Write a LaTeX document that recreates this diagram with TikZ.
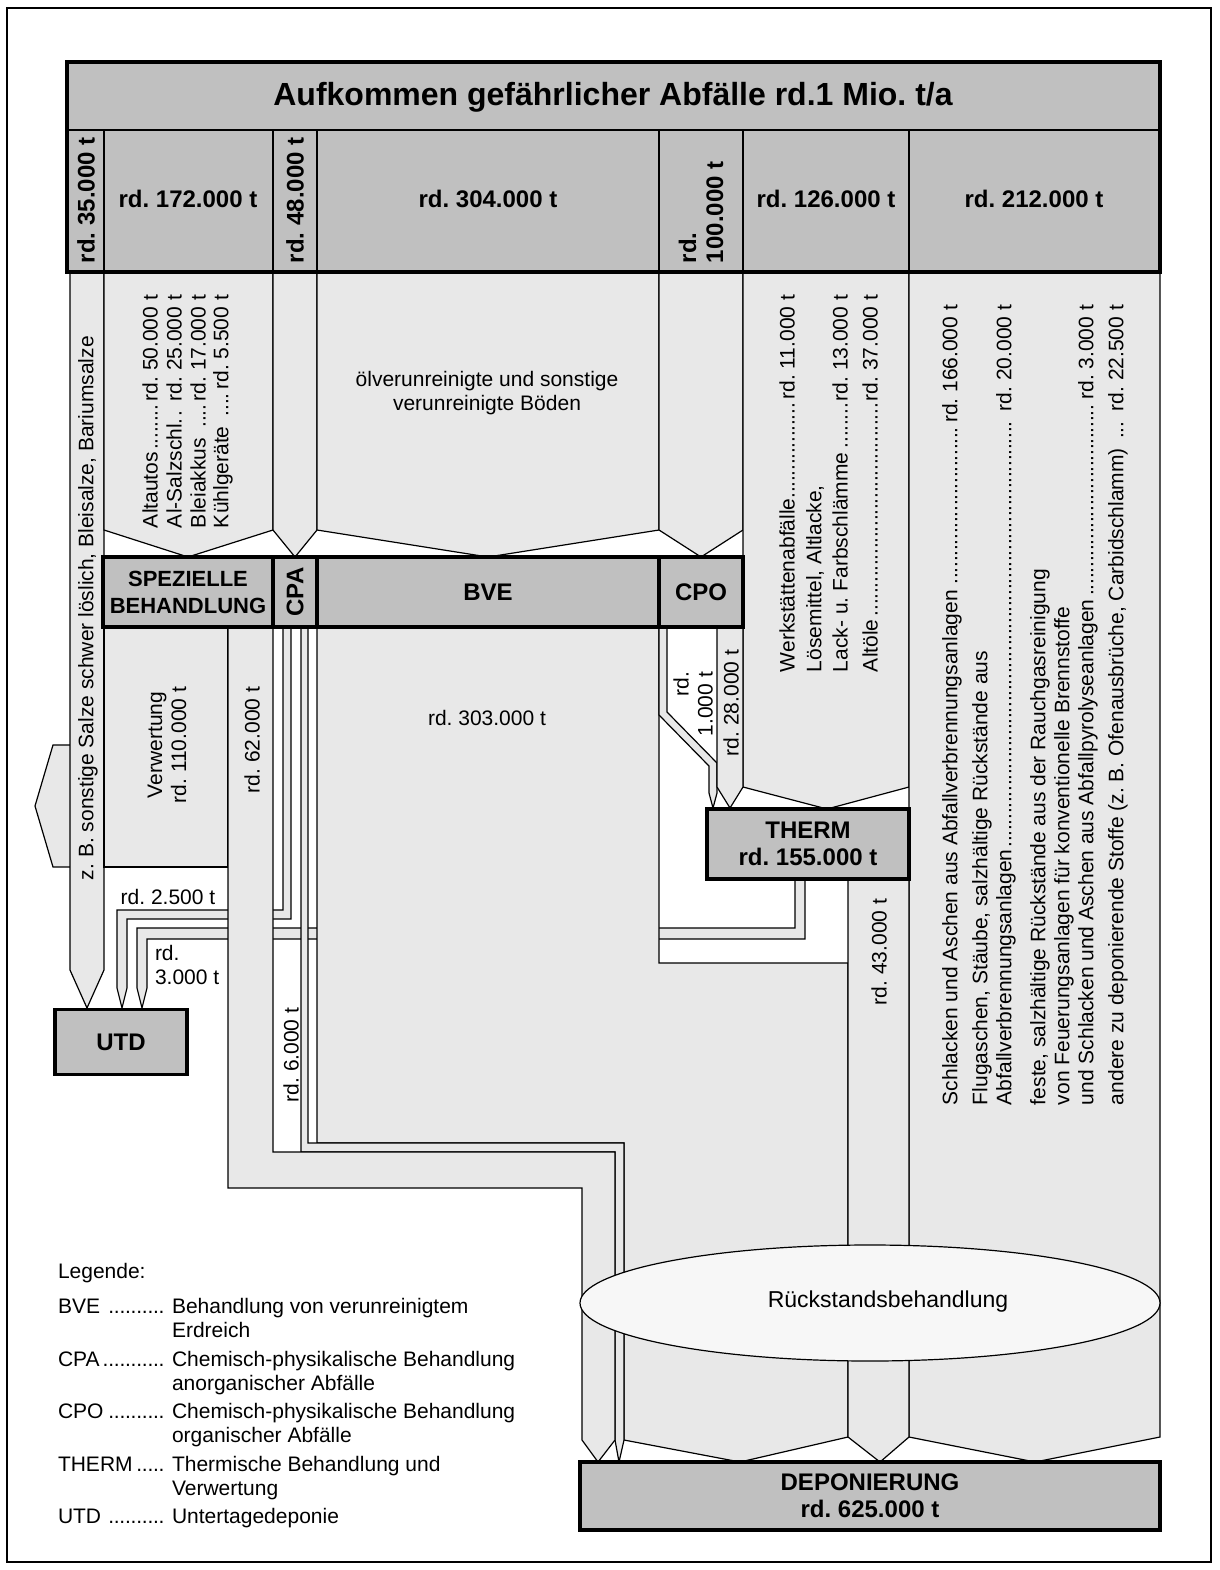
\documentclass[tikz,border=0pt]{standalone}
\usepackage{fontspec}
\setmainfont{Liberation Sans}
\usetikzlibrary{shapes.geometric}
\definecolor{boxgrey}{HTML}{C0C0C0}
\definecolor{flowgrey}{HTML}{E8E8E8}
\definecolor{ovalgrey}{HTML}{F7F7F7}
\frenchspacing
\newcommand{\txtsize}{\fontsize{21}{24}\selectfont}
\newcommand{\boldsize}{\fontsize{24}{27}\selectfont\bfseries}
\newcommand{\lfill}{\leaders\hbox to 5.6pt{\hss.\hss}\hfill}
\tikzstyle{flow}=[draw, fill=flowgrey, line width=1.2pt, line join=miter]
\tikzstyle{station}=[draw, fill=boxgrey, line width=3.5pt, inner sep=0, outer sep=0, align=center, font=\boldsize]
\tikzstyle{vtext}=[rotate=90, inner sep=0, outer sep=0, font=\txtsize]
\tikzstyle{htext}=[inner sep=0, outer sep=0, font=\txtsize]
\tikzstyle{hbold}=[inner sep=0, outer sep=0, font=\boldsize]

\begin{document}
\begin{tikzpicture}[x=1pt, y=-1pt]
    \useasboundingbox (0,0) rectangle (1219,1570);
    \draw[line width=1.5pt] (7,8) rectangle (1211,1562);

    % treatment boxes (placed first, so flows can use their anchors)
    \path (188,592) coordinate (spezc) (295,592) coordinate (cpac) (488,592) coordinate (bvec) (701,592) coordinate (cpoc);

    % inflows from the header
    \path[flow] (70,745) -- (53,745) -- (35,806) -- (53,867) -- (70,867);
    \path[flow] (70,272) -- (70,970) -- (87,1008) -- (104,970) -- (104,272) -- cycle;
    \path[flow] (104,272) -- (104,530) -- (188,557) -- (273,530) -- (273,272) -- cycle;
    \path[flow] (273,272) -- (273,530) -- (295,557) -- (317,530) -- (317,272) -- cycle;
    \path[flow] (317,272) -- (317,530) -- (488,557) -- (659,530) -- (659,272) -- cycle;
    \path[flow] (659,272) -- (659,530) -- (701,557) -- (743,530) -- (743,272) -- cycle;
    \path[flow] (743,272) -- (743,787) -- (827,809) -- (909,787) -- (909,272) -- cycle;
    \path[flow] (909,272) -- (909,1437) -- (1035,1462) -- (1160,1437) -- (1160,272) -- cycle;

    % THERM -> UTD
    \path[flow] (795,879) -- (795,928) -- (137,928) -- (137,988) -- (142,1008) -- (147,988) -- (147,939) -- (805,939) -- (805,879) -- cycle;
    % BVE -> DEPONIERUNG
    \path[flow] (317,627) -- (317,1143) -- (624,1143) -- (624,1440) -- (740,1462) -- (848,1437) -- (848,963) -- (659,963) -- (659,627) -- cycle;
    % CPA -> DEPONIERUNG
    \path[flow] (301,627) -- (301,1152) -- (615,1152) -- (615,1440) -- (619,1462) -- (624,1440) -- (624,1143) -- (308,1143) -- (308,627) -- cycle;
    % CPA -> UTD
    \path[flow] (283,627) -- (283,910) -- (117,910) -- (117,988) -- (122,1008) -- (127,988) -- (127,919) -- (291,919) -- (291,627) -- cycle;
    % Verwertung
    \path[flow] (104,627) -- (104,867) -- (228,867) -- (228,627) -- cycle;
    % SPEZIELLE BEHANDLUNG -> DEPONIERUNG
    \path[flow] (228,627) -- (228,1188) -- (582,1188) -- (582,1440) -- (598,1462) -- (615,1440) -- (615,1152) -- (273,1152) -- (273,627) -- cycle;
    % CPO -> THERM
    \path[flow] (659,627) -- (659,715) -- (709,766) -- (709,793) -- (713,808) -- (717,793) -- (717,763) -- (667,712) -- (667,627) -- cycle;
    \path[flow] (717,627) -- (717,787) -- (730,808) -- (743,787) -- (743,627) -- cycle;
    % THERM -> DEPONIERUNG
    \path[flow] (848,879) -- (848,1437) -- (880,1462) -- (909,1437) -- (909,879) -- cycle;

    \node[ellipse, draw, fill=ovalgrey, line width=1.2pt, minimum width=580pt, minimum height=116pt, inner sep=0] (oval) at (870,1303) {};
    \node[font=\fontsize{23}{26}\selectfont, inner sep=0] (ovaltext) at (888,1302) {Rückstandsbehandlung};

    % boxes
    \node[station, minimum width=170pt, minimum height=70pt, font=\fontsize{22}{27}\selectfont\bfseries] (spez) at (spezc) {SPEZIELLE\\BEHANDLUNG};
    \node[station, minimum width=44pt, minimum height=70pt] (cpa) at (cpac) {\rotatebox{90}{CPA}};
    \node[station, minimum width=342pt, minimum height=70pt] (bve) at (bvec) {BVE};
    \node[station, minimum width=84pt, minimum height=70pt] (cpo) at (cpoc) {CPO};
    \node[station, minimum width=202pt, minimum height=70pt] (therm) at (808,844) {THERM\\rd. 155.000 t};
    \node[station, minimum width=132pt, minimum height=65pt] (utd) at (121,1042) {UTD};
    \node[station, minimum width=580pt, minimum height=68pt] (depo) at (870,1496) {DEPONIERUNG\\rd. 625.000 t};

    % header
    \node[station, minimum width=1093pt, minimum height=210pt] (head) at (613.5,167) {};
    \draw[line width=1.5pt] (67,130) -- (1160,130);
    \foreach \x in {104,273,317,659,743,909}
        \draw[line width=1.5pt] (\x,130) -- (\x,272);
    \draw[line width=3.5pt] (head.north west) rectangle (head.south east);
    \node[font=\fontsize{32}{36}\selectfont\bfseries, inner sep=0] (title) at (613,97) {Aufkommen gefährlicher Abfälle rd.1 Mio. t/a};
    \node[hbold, rotate=90, anchor=west] (h1) at (86,263) {rd. 35.000 t};
    \node[hbold] (h2) at (188,199) {rd. 172.000 t};
    \node[hbold, rotate=90, anchor=west] (h3) at (295,263) {rd. 48.000 t};
    \node[hbold] (h4) at (488,199) {rd. 304.000 t};
    \node[hbold, rotate=90, anchor=west, align=left] (h5) at (701,263) {rd.\\100.000 t};
    \node[hbold] (h6) at (826,199) {rd. 126.000 t};
    \node[hbold] (h7) at (1034,199) {rd. 212.000 t};

    % texts in the flows
    \node[vtext, anchor=west] (salze) at (88,880) {z. B. sonstige Salze schwer löslich, Bleisalze, Bariumsalze};
    \node[vtext, anchor=west] (s1) at (150,528) {\makebox[233pt][l]{Altautos\lfill rd. 50.000 t}};
    \node[vtext, anchor=west] (s2) at (174,528) {\makebox[233pt][l]{Al-Salzschl.\lfill\ rd. 25.000 t}};
    \node[vtext, anchor=west] (s3) at (198,528) {\makebox[233pt][l]{Bleiakkus \lfill rd. 17.000 t}};
    \node[vtext, anchor=west] (s4) at (223,528) {\makebox[233pt][l]{Kühlgeräte \lfill rd. 5.500 t}};
    \node[htext, align=center] (boden) at (487,393) {ölverunreinigte und sonstige\\verunreinigte Böden};
    \node[vtext, anchor=west] (w1) at (787,672) {\makebox[377pt][l]{Werkstättenabfälle\lfill rd. 11.000 t}};
    \node[vtext, anchor=west] (w2) at (815,672) {Lösemittel, Altlacke,};
    \node[vtext, anchor=west] (w3) at (840,672) {\makebox[377pt][l]{Lack- u. Farbschlämme\lfill rd. 13.000 t}};
    \node[vtext, anchor=west] (w4) at (870,672) {\makebox[377pt][l]{Altöle\lfill rd. 37.000 t}};
    \node[vtext, anchor=west] (r1) at (952,1105) {\makebox[800pt][l]{Schlacken und Aschen aus Abfallverbrennungsanlagen \lfill rd. 166.000 t}};
    \node[vtext, anchor=west] (r2) at (982,1105) {Flugaschen, Stäube, salzhältige Rückstände aus};
    \node[vtext, anchor=west] (r3) at (1006,1105) {\makebox[800pt][l]{Abfallverbrennungsanlagen\lfill\ rd. 20.000 t}};
    \node[vtext, anchor=west] (r4) at (1040,1105) {feste, salzhältige Rückstände aus der Rauchgasreinigung};
    \node[vtext, anchor=west] (r5) at (1064,1105) {von Feuerungsanlagen für konventionelle Brennstoffe};
    \node[vtext, anchor=west] (r6) at (1088,1105) {\makebox[800pt][l]{und Schlacken und Aschen aus Abfallpyrolyseanlagen\lfill rd. 3.000 t}};
    \node[vtext, anchor=west] (r7) at (1118,1105) {\makebox[800pt][l]{andere zu deponierende Stoffe (z. B. Ofenausbrüche, Carbidschlamm) \lfill\ rd. 22.500 t}};

    \node[vtext, align=center] (verw) at (167,745) {Verwertung\\rd. 110.000 t};
    \node[vtext] (m62) at (252,740) {rd. 62.000 t};
    \node[vtext] (m6) at (291,1055) {rd. 6.000 t};
    \node[htext] (m303) at (487,718) {rd. 303.000 t};
    \node[vtext] (m28) at (731,703) {rd. 28.000 t};
    \node[vtext, anchor=east, align=right] (m1) at (693,672) {rd.\\1.000 t};
    \node[vtext] (m43) at (879,952) {rd. 43.000 t};
    \node[htext] (m25) at (168,897) {rd. 2.500 t};
    \node[htext, anchor=west, align=left] (m3) at (155,965) {rd.\\3.000 t};

    % legend
    \node[htext, anchor=base west] (leg) at (58,1278) {Legende:};
    \node[htext, anchor=base west] (lbve) at (58,1313) {\makebox[114pt][l]{BVE \lfill\hspace{7pt}}\parbox[t]{340pt}{Behandlung von verunreinigtem\\Erdreich}};
    \node[htext, anchor=base west] (lcpa) at (58,1366) {\makebox[114pt][l]{CPA\lfill\hspace{7pt}}\parbox[t]{360pt}{Chemisch-physikalische Behandlung\\anorganischer Abfälle}};
    \node[htext, anchor=base west] (lcpo) at (58,1418) {\makebox[114pt][l]{CPO\lfill\hspace{7pt}}\parbox[t]{360pt}{Chemisch-physikalische Behandlung\\organischer Abfälle}};
    \node[htext, anchor=base west] (lthe) at (58,1471) {\makebox[114pt][l]{THERM\lfill\hspace{7pt}}\parbox[t]{340pt}{Thermische Behandlung und\\Verwertung}};
    \node[htext, anchor=base west] (lutd) at (58,1523) {\makebox[114pt][l]{UTD \lfill\hspace{7pt}}Untertagedeponie};
\end{tikzpicture}
\end{document}
